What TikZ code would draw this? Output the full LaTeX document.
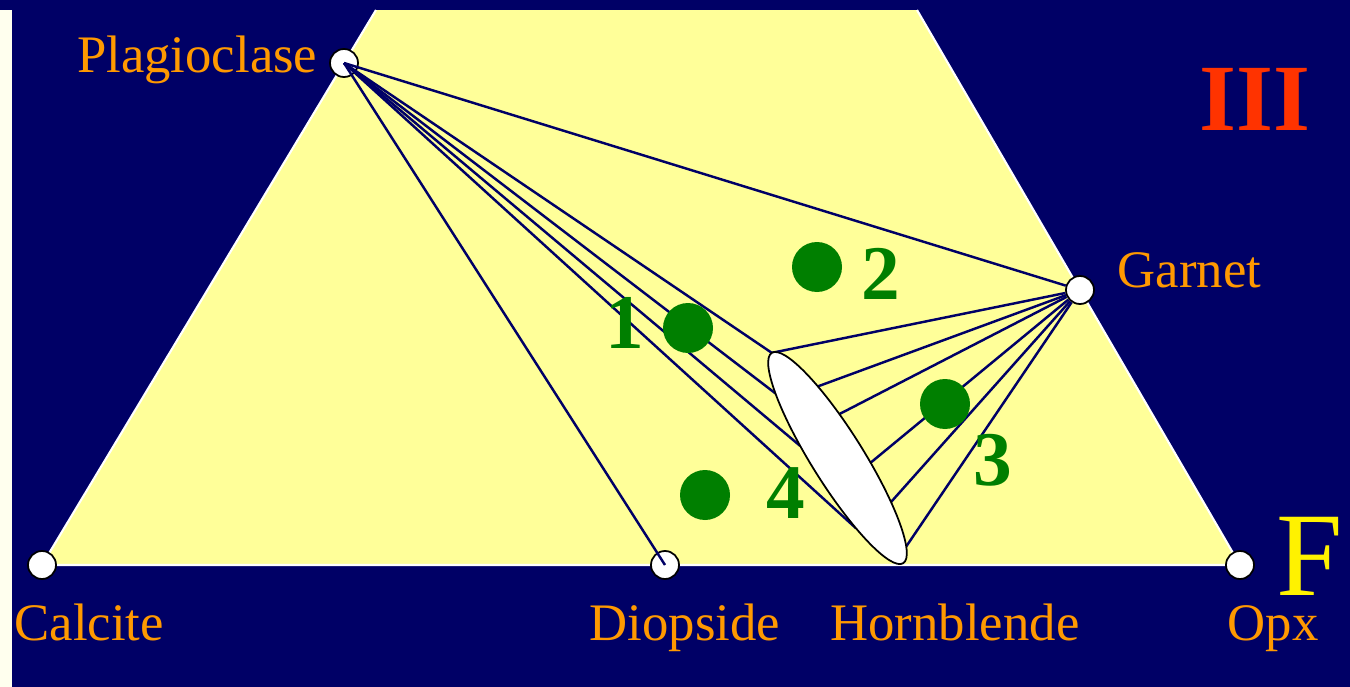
\documentclass[tikz,border=0pt]{standalone}
\usepackage{fontspec}
\setmainfont{Liberation Serif}
\definecolor{navy}{HTML}{000066}
\definecolor{paleyellow}{HTML}{FFFF99}
\definecolor{mineral}{HTML}{FF9900}
\definecolor{dotgreen}{HTML}{007F00}
\definecolor{zonered}{HTML}{FF3300}
\definecolor{cream}{HTML}{FFFFEE}

\begin{document}
\begin{tikzpicture}[
  phase/.style={circle, draw=black, line width=0.5pt, fill=white, minimum size=0.28cm, inner sep=0pt},
  tie/.style={navy, line width=0.7pt},
  lbl/.style={text=mineral, font=\fontsize{15}{18}\selectfont, inner sep=0pt},
  rock/.style={circle, fill=dotgreen, minimum size=0.5cm, inner sep=0pt},
  num/.style={text=dotgreen, font=\fontsize{22}{26}\selectfont\bfseries, inner sep=0pt, anchor=base}
]
\useasboundingbox (0,0) rectangle (13.5,-6.87);
\fill[navy] (0,0) rectangle (13.5,-6.87);
\fill[cream] (0,-0.10) rectangle (0.12,-6.87);

%%%%% ACF field
\fill[paleyellow] (0.42,-5.65) -- (3.76,-0.10) -- (9.17,-0.10) -- (12.40,-5.65) -- cycle;
\draw[white, line width=0.6pt] (3.76,-0.10) -- (0.42,-5.65) -- (12.40,-5.65) -- (9.17,-0.10);

\node[phase] (plag) at (3.44,-0.63) {}; \node[phase] (garnet) at (10.80,-2.90) {};
\node[phase] (calcite) at (0.42,-5.65) {}; \node[phase] (diopside) at (6.65,-5.65) {}; \node[phase] (opx) at (12.40,-5.65) {};

%%%%% hornblende field and tie lines
\coordinate (hblc) at (8.375,-4.58);
\begin{scope}[shift={(hblc)}, rotate=-58]
\foreach \a in {26,58,80,107,125,180,225,256,304} \coordinate (hbl\a) at (\a:1.24 and 0.26);
\end{scope}

\draw[tie] (plag.center) -- (garnet); \draw[tie] (plag.center) -- (diopside.center);
\foreach \a in {180,225,256,304} \draw[tie] (plag.center) -- (hbl\a);
\foreach \a in {26,58,80,107,125,180} \draw[tie] (garnet) -- (hbl\a);

\draw[fill=white, line width=0.5pt, rotate around={-58:(hblc)}] (hblc) ellipse [x radius=1.24, y radius=0.26];

%%%%% rock compositions
\node[rock] (r1) at (6.88,-3.28) {}; \node[num] (n1) at (6.25,-3.48) {1};
\node[rock] (r2) at (8.17,-2.67) {}; \node[num] (n2) at (8.81,-3.00) {2};
\node[rock] (r3) at (9.45,-4.04) {}; \node[num] (n3) at (9.93,-4.85) {3};
\node[rock] (r4) at (7.05,-4.95) {}; \node[num] (n4) at (7.86,-5.18) {4};

%%%%% labels
\node[lbl, anchor=base east] (plaglbl) at (3.18,-0.73) {Plagioclase};
\node[lbl, anchor=base west] (garnetlbl) at (11.17,-2.87) {Garnet};
\node[lbl, anchor=base west] (calcitelbl) at (0.14,-6.40) {Calcite};
\node[lbl, anchor=base] (diopsidelbl) at (6.85,-6.40) {Diopside};
\node[lbl, anchor=base] (hbllbl) at (9.55,-6.40) {Hornblende};
\node[lbl, anchor=base] (opxlbl) at (12.73,-6.40) {Opx};

\node[text=zonered, font=\fontsize{27}{30}\selectfont\bfseries, anchor=base, inner sep=0pt] (zone) at (12.55,-1.30) {III};
\node[text=yellow, font=\fontsize{34}{40}\selectfont, anchor=base, inner sep=0pt] (flbl) at (13.10,-5.95) {F};

\end{tikzpicture}
\end{document}
